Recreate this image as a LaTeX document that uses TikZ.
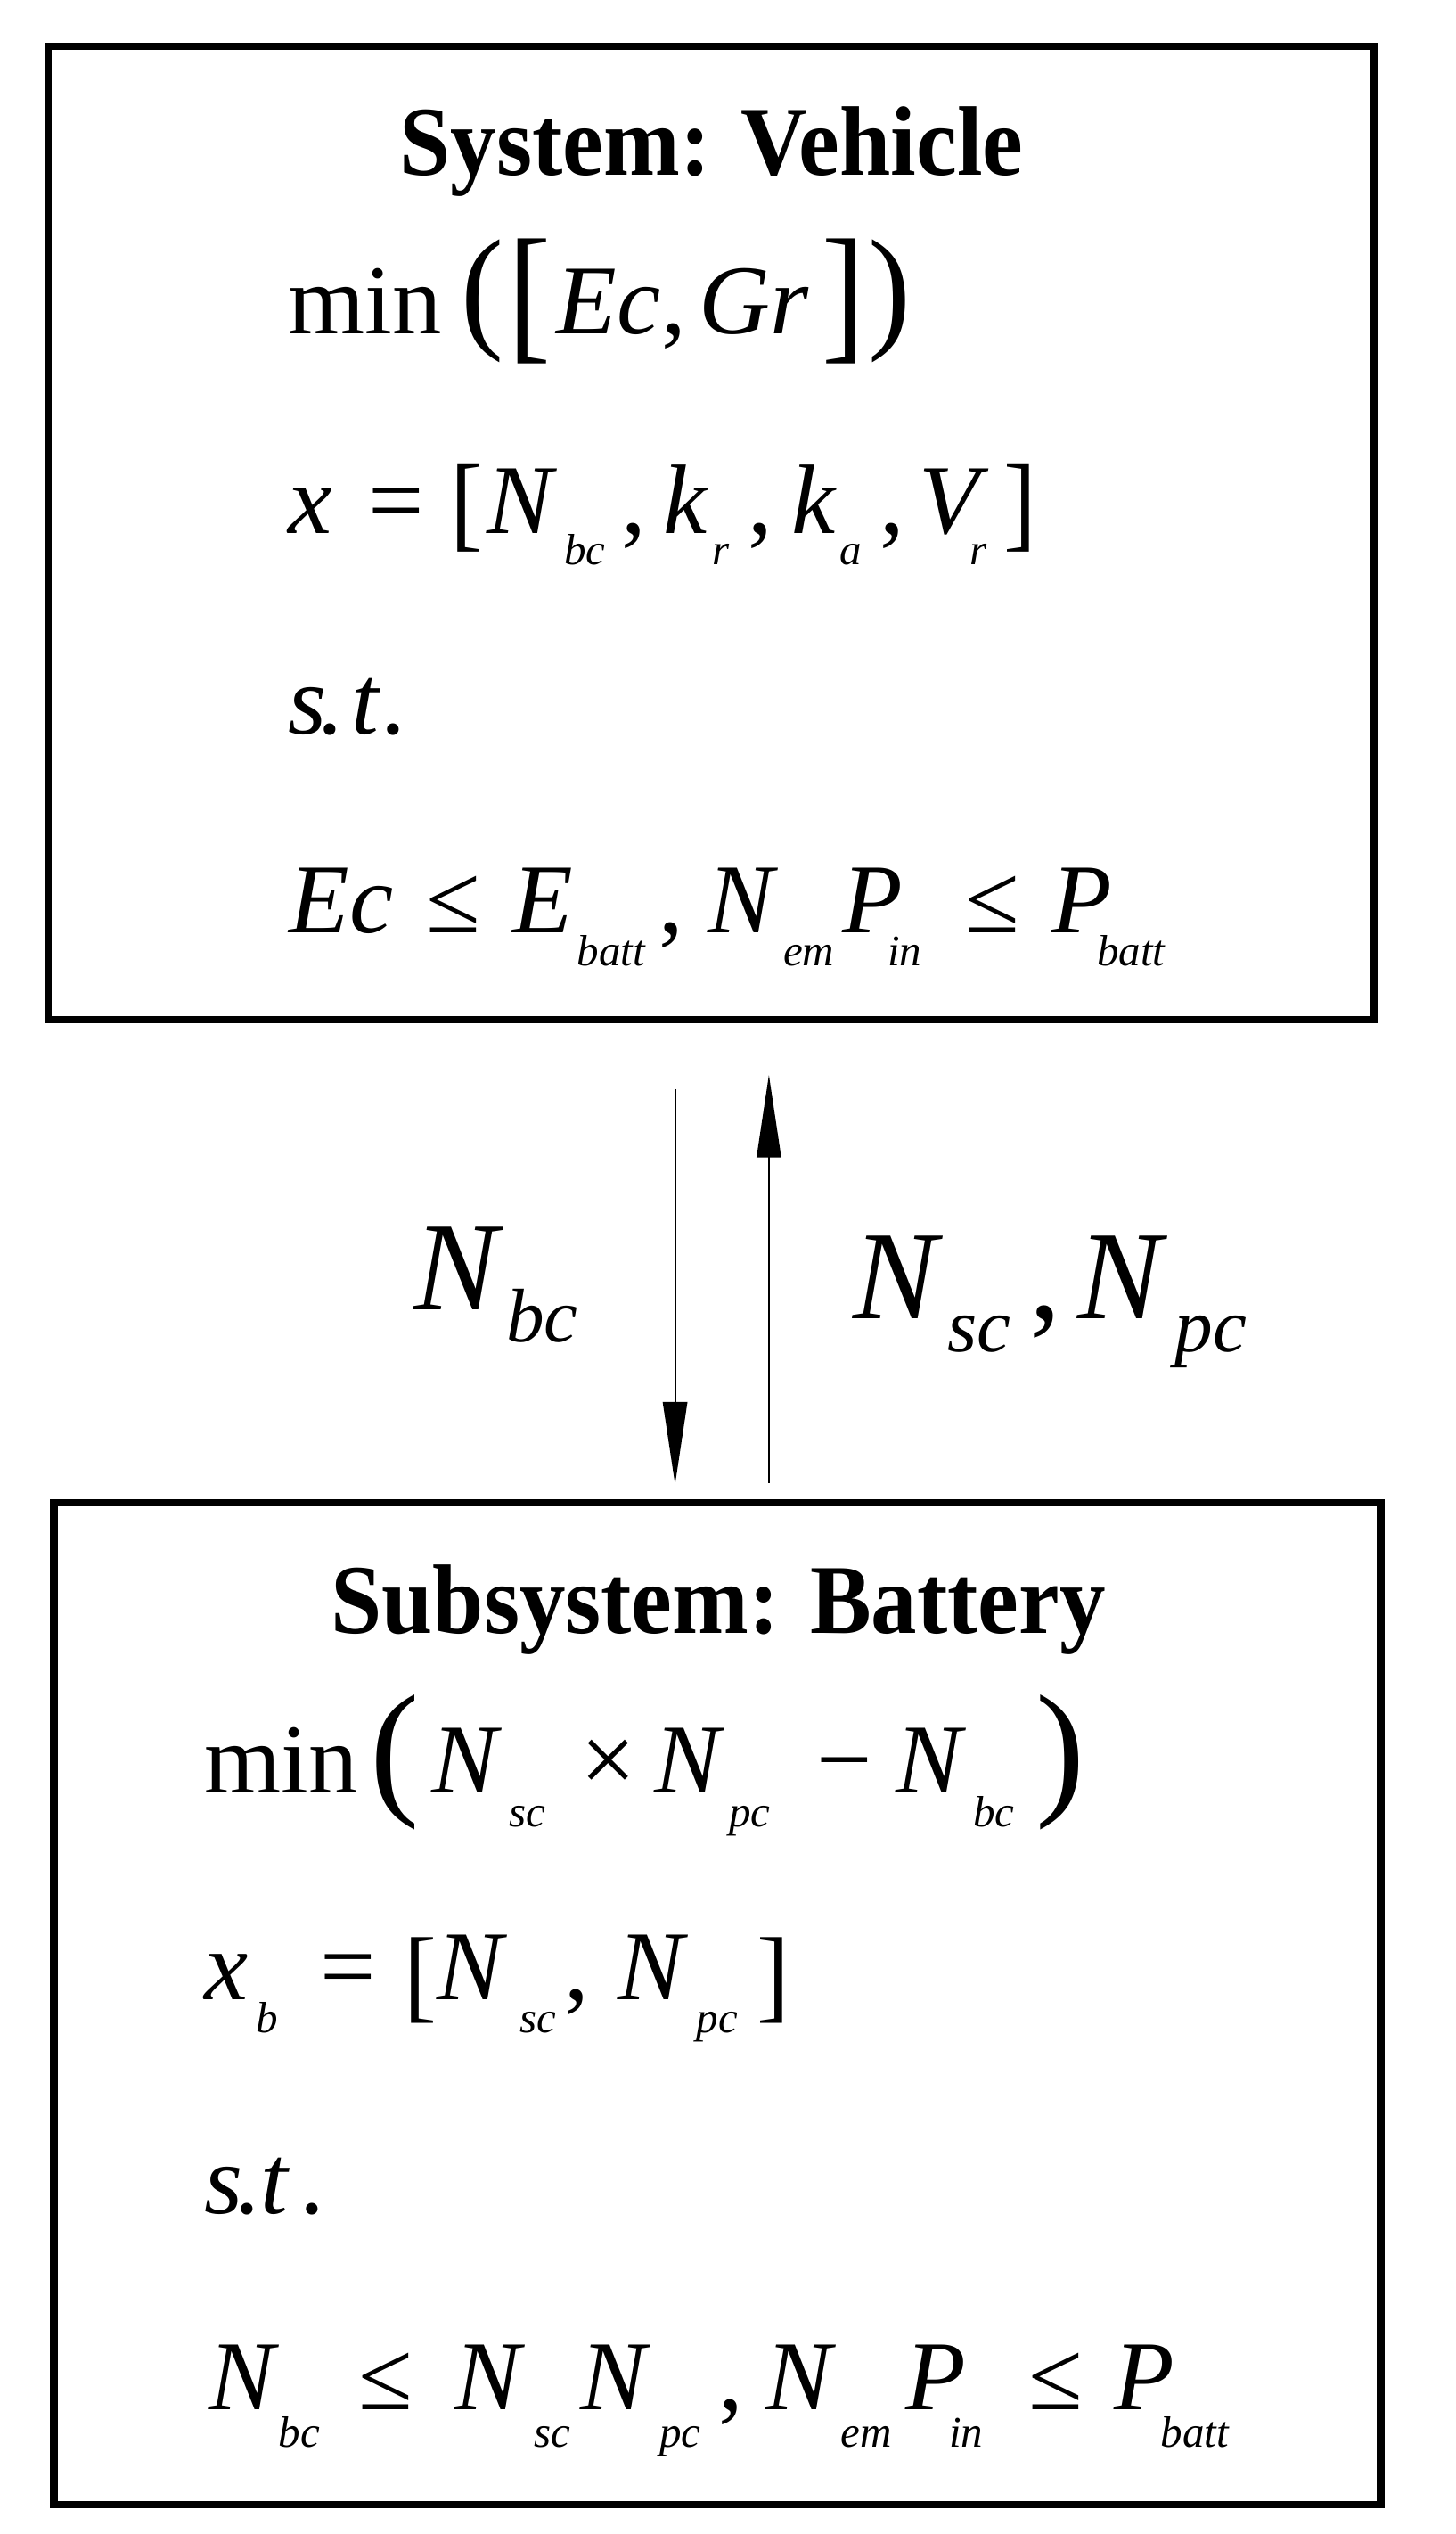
\documentclass[tikz,border=0pt]{standalone}
\usepackage{fontspec}
\setmainfont{Liberation Serif}
\usepackage{graphicx}
\usetikzlibrary{arrows.meta}
\newcounter{tkn}
\tikzset{
 frame/.style={draw, line width=4.5pt, inner sep=0pt, outer sep=0pt, rectangle},
 mi/.style={font=\fontsize{61}{61}\selectfont\itshape, inner sep=0pt, anchor=base west},
 mr/.style={font=\fontsize{61}{61}\selectfont, inner sep=0pt, anchor=base west},
 mc/.style={font=\fontsize{61}{61}\selectfont, inner sep=0pt, anchor=base},
 sb/.style={font=\fontsize{27}{27}\selectfont\itshape, inner sep=0pt, anchor=base west},
 ttl/.style={font=\fontsize{61}{61}\selectfont\bfseries, inner sep=0pt, anchor=base},
 dl/.style={font=\fontsize{61}{61}\selectfont, inner sep=0pt, anchor=center},
 li/.style={font=\fontsize{78}{78}\selectfont\itshape, inner sep=0pt, anchor=base west},
 lr/.style={font=\fontsize{78}{78}\selectfont, inner sep=0pt, anchor=base west},
 ls/.style={font=\fontsize{47}{47}\selectfont\itshape, inner sep=0pt, anchor=base west},
 flow/.style={line width=1.2pt, -{Triangle[length=51pt,width=15pt]}},
}
\newcommand\T[4]{\stepcounter{tkn}\node[#1] (t\arabic{tkn}) at (#2,#3) {#4};}
\newcommand\D[5]{\stepcounter{tkn}\node[dl] (t\arabic{tkn}) at (#1,#2) {\scalebox{#3}[#4]{#5}};}
\begin{document}
\begin{tikzpicture}[x=1pt,y=-1pt]
\useasboundingbox (0,0) rectangle (900,1566);
% ---------- top box ----------
\node[frame, minimum width=819.5pt, minimum height=601.3pt] (sys) at (439.7,329.4) {};
\T{ttl}{439.8}{108.3}{\scalebox{0.93}[1]{System: Vehicle}}
% line 1
\T{mr}{177.8}{206.5}{min}
\D{298}{186}{1.3}{1.375}{(}
\D{327.2}{186}{1.3}{1.53}{[}
\T{mi}{343.8}{206.5}{Ec}
\T{mr}{409}{206.5}{,}
\T{mi}{432}{206.5}{Gr}
\D{521.5}{186}{1.3}{1.53}{]}
\D{550}{186}{1.3}{1.375}{)}
% line 2
\T{mi}{177.8}{329.5}{x}
\T{mc}{245}{329.5}{=}
\D{288.4}{314}{1}{1.07}{[}
\T{mi}{301}{329.5}{N}
\T{sb}{348.5}{348.8}{bc}
\T{mr}{384}{329.5}{,}
\T{mi}{410}{329.5}{k}
\T{sb}{440}{348.8}{r}
\T{mr}{462}{329.5}{,}
\T{mi}{489.2}{329.5}{k}
\T{sb}{519.2}{348.8}{a}
\T{mr}{543.5}{329.5}{,}
\T{mi}{568}{329.5}{V}
\T{sb}{599.5}{348.8}{r}
\D{630.6}{314}{1}{1.07}{]}
% line 3
\T{mi}{177.8}{453.5}{s}
\T{mr}{196}{453.5}{.}
\T{mi}{217}{453.5}{t}
\T{mr}{235.5}{453.5}{.}
% line 4
\T{mi}{178.7}{576.5}{Ec}
\T{mc}{280.3}{576.5}{≤}
\T{mi}{316.7}{576.5}{E}
\T{sb}{356.5}{596.7}{batt}
\T{mr}{407}{576.5}{,}
\T{mi}{437.6}{576.5}{N}
\T{sb}{484}{596.7}{em}
\T{mi}{520.7}{576.5}{P}
\T{sb}{548.5}{596.7}{in}
\T{mc}{613.5}{576.5}{≤}
\T{mi}{650}{576.5}{P}
\T{sb}{678}{596.7}{batt}
% ---------- arrows ----------
\coordinate (d1) at (417.3,673);
\coordinate (d2) at (417.3,917.4);
\coordinate (u1) at (475.3,916.4);
\coordinate (u2) at (475.3,664.3);
\draw[flow] (d1) -- (d2);
\draw[flow] (u1) -- (u2);
\T{li}{255.4}{809.2}{N}
\T{ls}{312.8}{829.5}{bc}
\T{li}{527}{815}{N}
\T{ls}{585.5}{835.3}{sc}
\T{lr}{636}{815}{,}
\T{li}{665.8}{815}{N}
\T{ls}{726}{835.3}{pc}
% ---------- bottom box ----------
\node[frame, minimum width=820.2pt, minimum height=619pt] (bat) at (443.4,1238.4) {};
\T{ttl}{444}{1009.4}{\scalebox{0.93}[1]{Subsystem: Battery}}
% line 1
\T{mr}{126.3}{1107.8}{min}
\D{244}{1088.9}{1.5}{1.51}{(}
\T{mi}{266.9}{1107.8}{N}
\T{sb}{314.5}{1128.8}{sc}
\T{mc}{375.9}{1107.8}{×}
\T{mi}{404.6}{1107.8}{N}
\T{sb}{450.6}{1128.8}{pc}
\T{mc}{522.3}{1107.8}{−}
\T{mi}{553.9}{1107.8}{N}
\T{sb}{601.5}{1128.8}{bc}
\D{655.8}{1088.9}{1.5}{1.51}{)}
% line 2
\T{mi}{126.3}{1235.7}{x}
\T{sb}{157.9}{1256}{b}
\T{mc}{215.3}{1235.7}{=}
\D{259.7}{1224}{1}{1.05}{[}
\T{mi}{269.8}{1235.7}{N}
\T{sb}{321.4}{1256}{sc}
\T{mr}{349}{1235.7}{,}
\T{mi}{381.7}{1235.7}{N}
\T{sb}{430.5}{1256}{pc}
\D{477.9}{1224}{1}{1.05}{]}
% line 3
\T{mi}{126.3}{1367.7}{s}
\T{mr}{145}{1367.7}{.}
\T{mi}{161}{1367.7}{t}
\T{mr}{185}{1367.7}{.}
% line 4
\T{mi}{129.1}{1489.2}{N}
\T{sb}{172.2}{1512.2}{bc}
\T{mc}{238.2}{1489.2}{≤}
\T{mi}{281.2}{1489.2}{N}
\T{sb}{330}{1512.2}{sc}
\T{mi}{358.7}{1489.2}{N}
\T{sb}{407.5}{1512.2}{pc}
\T{mr}{444}{1489.2}{,}
\T{mi}{473.5}{1489.2}{N}
\T{sb}{519.4}{1512.2}{em}
\T{mi}{559.6}{1489.2}{P}
\T{sb}{586.5}{1512.2}{in}
\T{mc}{652.9}{1489.2}{≤}
\T{mi}{688.8}{1489.2}{P}
\T{sb}{717.5}{1512.2}{batt}
\end{tikzpicture}
\end{document}
